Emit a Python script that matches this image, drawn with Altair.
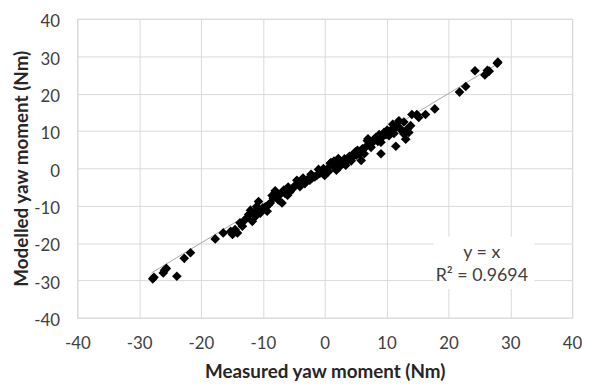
import altair as alt
import pandas as pd

# Scatter data (Measured vs Modelled yaw moment, Nm)
measured = [
    -27.8, -27.6, -26.1, -25.6, -25.9, -23.9, -22.7, -21.7, -17.7, -16.4,
    -14.9, -15.2, -14.1, -14.5, -13.7, -13.3, -13.0, -12.3, -12.6, -11.7,
    -11.2, -11.5, -10.7, -10.4, -10.9, -10.0, -9.3, -9.6, -8.8, -9.1,
    -8.0, -8.3, -7.5, -7.8, -6.9, -7.2, -6.4, -6.6, -5.6, -6.0,
    -5.2, -4.5, -4.8, -4.0, -4.2, -3.6, -3.2, -2.8, -2.4, -2.0,
    -1.6, -1.2, -0.8, -0.4, 0.0, 0.3, 0.8, 0.6, 1.0, 1.3,
    1.6, 1.9, 2.1, 2.4, 2.6, 2.9, 3.2, 3.4, 3.7, 4.0,
    4.3, 4.5, 4.8, 5.1, 5.3, 5.6, 5.9, 6.1, 6.4, 6.7,
    6.9, 7.2, 7.5, 7.8, 8.0, 8.3, 8.6, 8.8, 9.1, 9.1,
    9.4, 9.6, 9.9, 10.1, 10.4, 10.6, 10.9, 11.2, 11.5, 11.4,
    11.7, 12.0, 12.2, 12.5, 12.8, 13.1, 13.3, 13.6, 13.9, 14.1,
    14.9, 15.2, 16.3, 17.8, 21.8, 22.8, 24.3, 25.9, 26.3, 26.6,
    27.9, 28.0, 11.0, 12.8, -3.5, 1.5, -1.0, -8.5, -5.9, 0.9,
    2.2, 3.0, 4.6, -12.0, -11.0, 7.0, 10.3, -2.2, -0.2, 5.0,
]
modelled = [
    -29.6, -29.2, -28.0, -26.8, -27.3, -28.9, -24.1, -22.6, -18.9, -17.3,
    -17.7, -16.9, -17.3, -16.4, -14.6, -15.5, -14.0, -12.4, -13.3, -14.2,
    -12.9, -12.0, -8.9, -12.0, -11.2, -10.6, -11.5, -10.3, -9.3, -9.8,
    -6.0, -8.0, -8.5, -7.6, -9.3, -7.0, -6.7, -5.8, -6.3, -7.2,
    -5.5, -3.2, -4.6, -4.9, -4.0, -3.8, -4.1, -3.0, -3.2, -2.5,
    -2.3, -1.8, -1.4, -0.8, -1.9, -0.5, 0.4, -0.9, 1.5, 0.8,
    0.2, -0.5, 1.0, 0.4, 1.8, 1.2, 2.5, 0.8, 2.1, 3.2,
    2.0, 3.0, 4.1, 3.5, 4.8, 3.9, 2.1, 5.2, 3.9, 5.8,
    7.4, 6.3, 5.6, 7.0, 7.8, 8.3, 7.2, 9.0, 3.9, 7.0,
    8.5, 9.6, 9.0, 10.2, 8.7, 9.8, 10.5, 9.3, 5.9, 10.8,
    11.4, 12.7, 10.6, 10.0, 9.2, 7.8, 10.4, 9.6, 11.4, 14.4,
    14.4, 13.6, 14.4, 15.9, 20.4, 21.9, 26.1, 25.0, 26.2, 26.0,
    28.1, 28.4, 11.8, 12.4, -2.6, 1.9, -0.3, -7.3, -5.0, 1.3,
    2.6, 1.5, 3.7, -11.2, -10.2, 7.9, 9.6, -1.6, -0.1, 4.4,
]

# y = x trendline endpoints
trend_x = [-28.0, 28.0]
trend_y = [-28.0, 28.0]

# Annotation text
annot_lines = ["y = x", "R² = 0.9694"]
annot_x = [25.4, 25.4]
annot_y = [-22.6, -28.9]
box_x, box_x2, box_y, box_y2 = [17.6], [33.9], [-18.3], [-32.3]

ticks = [-40, -30, -20, -10, 0, 10, 20, 30, 40]

FONT = "Lato"
pts = pd.DataFrame({"x": measured, "y": modelled})
trend = pd.DataFrame({"x": trend_x, "y": trend_y})
ann = pd.DataFrame({"x": annot_x, "y": annot_y, "t": annot_lines})
box = pd.DataFrame({"x": box_x, "x2": box_x2, "y": box_y, "y2": box_y2})

xs = alt.Scale(domain=[-40, 40], nice=False)
ys = alt.Scale(domain=[-40, 40], nice=False)

xaxis = alt.Axis(values=ticks, tickCount=20, title="Measured yaw moment (Nm)",
                 labelExpr="'' + datum.value",
                 labelPadding=18, titleY=54, titleBaseline="middle")
yaxis = alt.Axis(values=ticks, tickCount=20, title="Modelled yaw moment (Nm)",
                 labelExpr="'' + datum.value",
                 labelPadding=18, labelOffset=3, titleLimit=400,
                 titleX=-56, titleY=151, titleBaseline="middle",
                 titleAngle=-90, titleAlign="center")

points = alt.Chart(pts).mark_point(shape="diamond", filled=True, color="#000000",
                                   size=95, opacity=1).encode(
    x=alt.X("x:Q", scale=xs, axis=xaxis),
    y=alt.Y("y:Q", scale=ys, axis=yaxis),
)

rect = alt.Chart(box).mark_rect(color="white").encode(
    x=alt.X("x:Q", scale=xs, axis=xaxis), x2="x2:Q",
    y=alt.Y("y:Q", scale=ys, axis=yaxis), y2="y2:Q",
)

line = alt.Chart(trend).mark_line(color="#a6a6a6", strokeWidth=1).encode(
    x=alt.X("x:Q", scale=xs, axis=xaxis), y=alt.Y("y:Q", scale=ys, axis=yaxis))

text = alt.Chart(ann).mark_text(font=FONT, fontSize=18, color="#404040",
                                align="center", baseline="middle").encode(
    x=alt.X("x:Q", scale=xs, axis=xaxis), y=alt.Y("y:Q", scale=ys, axis=yaxis),
    text="t:N")

chart = alt.layer(rect, line, points, text).properties(
    width=500, height=302,
    autosize=alt.AutoSizeParams(type="none"),
    padding={"left": 70, "top": 9, "right": 10, "bottom": 64},
).configure_view(stroke="#d9d9d9", strokeWidth=1).configure_axis(
    grid=True, gridColor="#d9d9d9", domain=False, ticks=False,
    labelOverlap=False, labelFlush=False,
    labelFont=FONT, labelFontSize=17, labelColor="#404040",
    titleFont=FONT, titleFontSize=19, titleFontWeight="bold",
    titleColor="#262626",
)

chart.save("out.html", embed_options={"renderer": "svg", "actions": False})
